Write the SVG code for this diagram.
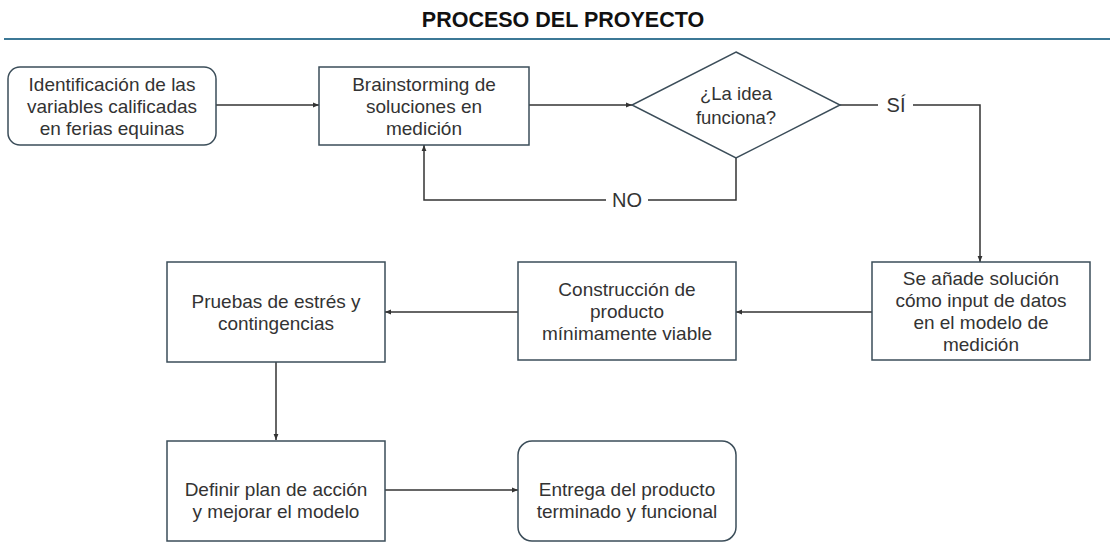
<svg xmlns="http://www.w3.org/2000/svg" width="1110" height="544" viewBox="0 0 1110 544">
<style>
.box{fill:#fff;stroke:#3b4d59;stroke-width:1.5}
.t{font-family:"Liberation Sans",Arial,sans-serif;font-size:19px;fill:#333;text-anchor:middle}
.ts{font-family:"Liberation Sans",Arial,sans-serif;font-size:18.5px;fill:#333;text-anchor:middle}
.c{fill:none;stroke:#333;stroke-width:1.5}
.lbl{font-family:"Liberation Sans",Arial,sans-serif;font-size:20px;fill:#333;text-anchor:middle}
</style>
<defs>
<marker id="ah" viewBox="0 0 10 10" refX="10" refY="5" markerWidth="6" markerHeight="6" orient="auto-start-reverse" markerUnits="userSpaceOnUse">
<path d="M0,1 L10,5 L0,9 Z" fill="#333"/>
</marker>
</defs>
<rect width="1110" height="544" fill="#fff"/>
<g id="title">
<text x="563" y="27" font-family="Liberation Sans,Arial,sans-serif" font-size="21.5" font-weight="bold" fill="#111" text-anchor="middle">PROCESO DEL PROYECTO</text>
<line x1="4" y1="39" x2="1110" y2="39" stroke="#3c7896" stroke-width="2"/>
</g>
<g id="connectors">
<line class="c" x1="216" y1="105" x2="319" y2="105" marker-end="url(#ah)"/>
<line class="c" x1="529" y1="105" x2="632" y2="105" marker-end="url(#ah)"/>
<polyline class="c" points="840,105 878,105"/>
<polyline class="c" points="913,105 980,105 980,262" marker-end="url(#ah)"/>
<polyline class="c" points="736,158 736,200 648,200"/>
<polyline class="c" points="606,200 424,200 424,145" marker-end="url(#ah)"/>
<line class="c" x1="872" y1="312" x2="736" y2="312" marker-end="url(#ah)"/>
<line class="c" x1="518" y1="312" x2="385" y2="312" marker-end="url(#ah)"/>
<line class="c" x1="276" y1="362" x2="276" y2="440" marker-end="url(#ah)"/>
<line class="c" x1="385" y1="490" x2="518" y2="490" marker-end="url(#ah)"/>
<text class="lbl" x="896" y="112">SÍ</text>
<text class="lbl" x="627" y="207">NO</text>
</g>
<g id="n1">
<rect class="box" x="8" y="67" width="208" height="78" rx="12"/>
<text class="t" x="112" y="91">Identificación de las</text>
<text class="t" x="112" y="113">variables calificadas</text>
<text class="t" x="112" y="135">en ferias equinas</text>
</g>
<g id="n2">
<rect class="box" x="319" y="67" width="210" height="78"/>
<text class="t" x="424" y="91">Brainstorming de</text>
<text class="t" x="424" y="113">soluciones en</text>
<text class="t" x="424" y="135">medición</text>
</g>
<g id="n3">
<polygon class="box" points="736,52 840,105 736,158 632,105"/>
<text class="ts" x="736" y="100">¿La idea</text>
<text class="ts" x="736" y="124">funciona?</text>
</g>
<g id="n4">
<rect class="box" x="872" y="262" width="218" height="98"/>
<text class="t" x="981" y="285">Se añade solución</text>
<text class="t" x="981" y="307">cómo input de datos</text>
<text class="t" x="981" y="329">en el modelo de</text>
<text class="t" x="981" y="351">medición</text>
</g>
<g id="n5">
<rect class="box" x="518" y="262" width="218" height="98"/>
<text class="t" x="627" y="296">Construcción de</text>
<text class="t" x="627" y="318">producto</text>
<text class="t" x="627" y="340">mínimamente viable</text>
</g>
<g id="n6">
<rect class="box" x="167" y="262" width="218" height="100"/>
<text class="t" x="276" y="308">Pruebas de estrés y</text>
<text class="t" x="276" y="330">contingencias</text>
</g>
<g id="n7">
<rect class="box" x="167" y="441" width="218" height="100"/>
<text class="t" x="276" y="496">Definir plan de acción</text>
<text class="t" x="276" y="518">y mejorar el modelo</text>
</g>
<g id="n8">
<rect class="box" x="518" y="441" width="218" height="100" rx="14"/>
<text class="t" x="627" y="496">Entrega del producto</text>
<text class="t" x="627" y="518">terminado y funcional</text>
</g>
</svg>
